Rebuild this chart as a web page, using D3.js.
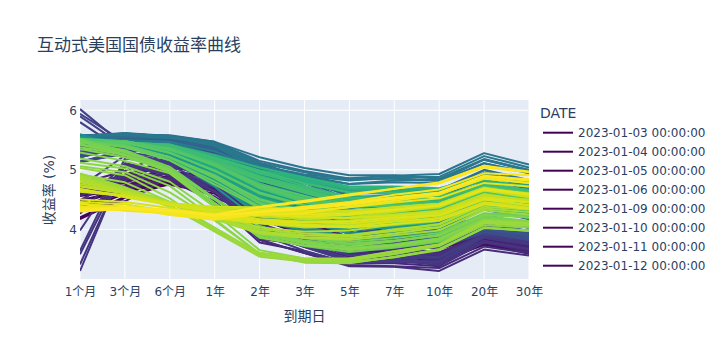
<!DOCTYPE html>
<html><head><meta charset="utf-8">
<script src="https://cdn.jsdelivr.net/npm/d3@7"></script>
<style>
body{margin:0;background:#fff}
svg{font-family:"DejaVu Sans","Noto Sans CJK SC",sans-serif}
</style>
</head><body>
<svg id="chart" width="728" height="360"></svg>
<script>
// ---- data ----
const maturities = ["1个月","3个月","6个月","1年","2年","3年","5年","7年","10年","20年","30年"];
const yTicks = [4, 5, 6];
// Fridays (plus the first trading days of 2023)
const dates = [
"2023-01-03","2023-01-04","2023-01-05","2023-01-06","2023-01-09","2023-01-10","2023-01-11","2023-01-12",
"2023-01-20","2023-01-27","2023-02-03","2023-02-10","2023-02-17","2023-02-24","2023-03-03","2023-03-10",
"2023-03-17","2023-03-24","2023-03-31","2023-04-06","2023-04-14","2023-04-21","2023-04-28","2023-05-05",
"2023-05-12","2023-05-19","2023-05-24","2023-05-26","2023-06-02","2023-06-09","2023-06-16","2023-06-23",
"2023-06-30","2023-07-07","2023-07-14","2023-07-21","2023-07-28","2023-08-04","2023-08-11","2023-08-18",
"2023-08-25","2023-09-01","2023-09-08","2023-09-15","2023-09-22","2023-09-29","2023-10-06","2023-10-13",
"2023-10-20","2023-10-27","2023-11-03","2023-11-09","2023-11-17","2023-11-24","2023-12-01","2023-12-08",
"2023-12-15","2023-12-22","2023-12-29","2024-01-05","2024-01-12","2024-01-19","2024-01-26","2024-02-02",
"2024-02-09","2024-02-16","2024-02-23","2024-03-01","2024-03-08","2024-03-15","2024-03-22","2024-03-28",
"2024-04-05","2024-04-12","2024-04-19","2024-04-26","2024-05-03","2024-05-10","2024-05-17","2024-05-24",
"2024-05-31","2024-06-07","2024-06-14","2024-06-21","2024-06-28","2024-07-05","2024-07-12","2024-07-19",
"2024-07-26","2024-08-02","2024-08-09","2024-08-16","2024-08-23","2024-08-30","2024-09-06","2024-09-13",
"2024-09-20","2024-09-27","2024-10-04","2024-10-11","2024-10-18","2024-10-25","2024-11-01","2024-11-08",
"2024-11-15","2024-11-22","2024-11-29","2024-12-06","2024-12-13","2024-12-20","2024-12-27","2025-01-03",
"2025-01-10","2025-01-17"
];
// one row per date above, yields (%) in the order of `maturities`
const curves = [
[4.17,4.53,4.77,4.72,4.40,4.18,3.94,3.89,3.79,4.06,3.88],
[4.20,4.55,4.77,4.71,4.36,4.11,3.85,3.79,3.69,3.95,3.79],
[4.30,4.60,4.84,4.78,4.45,4.20,3.94,3.86,3.72,3.99,3.81],
[4.32,4.64,4.79,4.71,4.24,4.00,3.73,3.66,3.55,3.84,3.67],
[4.33,4.65,4.79,4.69,4.19,3.94,3.69,3.63,3.53,3.83,3.66],
[4.34,4.67,4.82,4.73,4.24,4.00,3.77,3.70,3.61,3.89,3.72],
[4.35,4.67,4.79,4.69,4.21,3.97,3.70,3.64,3.54,3.81,3.65],
[4.36,4.65,4.75,4.60,4.09,3.82,3.57,3.50,3.44,3.75,3.59],
[4.49,4.66,4.80,4.64,4.18,3.89,3.61,3.55,3.48,3.75,3.63],
[4.62,4.68,4.82,4.68,4.21,3.94,3.63,3.58,3.52,3.80,3.65],
[4.63,4.71,4.91,4.79,4.30,3.98,3.66,3.60,3.53,3.78,3.61],
[4.60,4.74,4.97,4.89,4.51,4.20,3.93,3.83,3.74,3.94,3.80],
[4.64,4.80,5.05,5.01,4.62,4.36,4.05,3.95,3.82,4.00,3.88],
[4.69,4.84,5.13,5.05,4.81,4.51,4.19,4.05,3.94,4.07,3.93],
[4.72,4.89,5.21,5.03,4.86,4.58,4.24,4.08,3.95,4.07,3.88],
[4.69,4.92,5.17,4.90,4.59,4.30,3.96,3.82,3.70,3.90,3.70],
[4.41,4.47,4.88,4.44,3.84,3.74,3.54,3.51,3.43,3.79,3.62],
[4.29,4.70,4.82,4.47,3.78,3.63,3.43,3.43,3.38,3.78,3.64],
[4.74,4.85,4.94,4.64,4.06,3.81,3.60,3.55,3.48,3.81,3.67],
[4.49,4.89,4.83,4.55,3.82,3.60,3.38,3.37,3.30,3.66,3.56],
[4.26,5.05,4.95,4.73,4.10,3.85,3.63,3.56,3.51,3.86,3.74],
[3.41,5.08,4.91,4.71,4.18,3.93,3.68,3.63,3.57,3.90,3.78],
[3.30,5.10,4.94,4.80,4.04,3.76,3.50,3.48,3.44,3.81,3.67],
[4.71,5.24,5.03,4.64,3.92,3.64,3.43,3.45,3.44,3.87,3.78],
[5.31,5.26,5.08,4.71,3.98,3.70,3.46,3.47,3.46,3.89,3.81],
[5.80,5.30,5.19,4.90,4.28,4.01,3.72,3.70,3.69,4.02,3.95],
[6.02,5.40,5.34,5.14,4.37,4.09,3.81,3.79,3.72,4.03,3.97],
[5.94,5.46,5.35,5.21,4.54,4.22,3.93,3.86,3.80,4.05,3.97],
[5.47,5.48,5.47,5.19,4.50,4.21,3.93,3.86,3.69,3.98,3.88],
[5.14,5.27,5.44,5.26,4.59,4.26,3.92,3.84,3.74,3.99,3.88],
[5.22,5.38,5.45,5.27,4.70,4.35,4.00,3.89,3.77,4.00,3.86],
[5.21,5.40,5.45,5.28,4.75,4.37,4.00,3.86,3.74,3.96,3.83],
[5.24,5.43,5.47,5.40,4.87,4.49,4.13,3.97,3.81,4.00,3.85],
[5.28,5.42,5.54,5.42,4.94,4.64,4.35,4.20,4.06,4.19,4.05],
[5.36,5.41,5.45,5.25,4.74,4.39,4.04,3.92,3.83,4.08,3.93],
[5.40,5.43,5.51,5.34,4.84,4.49,4.15,4.01,3.84,4.04,3.91],
[5.41,5.45,5.52,5.36,4.88,4.53,4.18,4.07,3.96,4.18,4.02],
[5.53,5.54,5.47,5.31,4.78,4.47,4.14,4.12,4.05,4.35,4.21],
[5.54,5.54,5.50,5.37,4.89,4.56,4.31,4.27,4.16,4.45,4.31],
[5.54,5.54,5.55,5.42,4.92,4.64,4.39,4.34,4.25,4.52,4.38],
[5.54,5.58,5.58,5.47,5.05,4.78,4.46,4.35,4.25,4.47,4.30],
[5.54,5.56,5.54,5.35,4.87,4.56,4.29,4.24,4.18,4.44,4.29],
[5.55,5.58,5.55,5.41,4.98,4.68,4.39,4.33,4.26,4.49,4.33],
[5.55,5.59,5.57,5.43,5.02,4.73,4.44,4.39,4.33,4.57,4.42],
[5.57,5.56,5.55,5.44,5.10,4.82,4.56,4.51,4.44,4.70,4.52],
[5.55,5.55,5.53,5.46,5.03,4.80,4.60,4.61,4.59,4.88,4.73],
[5.57,5.61,5.56,5.45,5.08,4.90,4.76,4.79,4.78,5.11,4.95],
[5.57,5.60,5.55,5.42,5.03,4.81,4.63,4.65,4.63,4.99,4.79],
[5.56,5.60,5.57,5.45,5.07,4.92,4.86,4.90,4.93,5.28,5.09],
[5.56,5.61,5.56,5.40,5.00,4.87,4.76,4.82,4.84,5.17,5.00],
[5.53,5.50,5.44,5.21,4.83,4.63,4.48,4.56,4.57,4.95,4.77],
[5.53,5.50,5.47,5.31,5.02,4.80,4.66,4.69,4.62,4.92,4.73],
[5.52,5.45,5.41,5.17,4.89,4.66,4.44,4.47,4.44,4.79,4.60],
[5.52,5.48,5.43,5.19,4.95,4.72,4.49,4.52,4.47,4.77,4.60],
[5.50,5.42,5.32,4.99,4.56,4.32,4.14,4.22,4.22,4.56,4.40],
[5.51,5.46,5.36,5.05,4.71,4.46,4.24,4.27,4.23,4.50,4.31],
[5.54,5.42,5.25,4.94,4.45,4.15,3.92,3.94,3.92,4.21,4.03],
[5.55,5.44,5.26,4.82,4.31,4.06,3.85,3.87,3.90,4.18,4.05],
[5.60,5.37,5.26,4.79,4.23,4.01,3.84,3.88,3.88,4.20,4.03],
[5.54,5.43,5.24,4.84,4.40,4.20,4.02,4.04,4.05,4.37,4.21],
[5.55,5.44,5.18,4.72,4.14,3.98,3.85,3.91,3.96,4.34,4.19],
[5.54,5.43,5.22,4.84,4.39,4.19,4.04,4.10,4.15,4.47,4.35],
[5.54,5.45,5.21,4.81,4.35,4.15,4.06,4.10,4.15,4.50,4.38],
[5.53,5.43,5.21,4.80,4.37,4.14,3.99,4.04,4.03,4.36,4.22],
[5.53,5.44,5.27,4.91,4.48,4.29,4.14,4.17,4.18,4.47,4.37],
[5.52,5.45,5.34,5.01,4.64,4.43,4.28,4.31,4.30,4.55,4.43],
[5.52,5.45,5.31,4.97,4.69,4.46,4.28,4.28,4.26,4.52,4.39],
[5.52,5.46,5.32,4.95,4.53,4.32,4.15,4.19,4.19,4.46,4.33],
[5.52,5.46,5.32,4.94,4.47,4.25,4.06,4.09,4.09,4.36,4.26],
[5.51,5.48,5.35,5.03,4.73,4.50,4.33,4.33,4.31,4.54,4.43],
[5.51,5.46,5.32,5.00,4.59,4.38,4.22,4.23,4.22,4.45,4.38],
[5.49,5.46,5.38,5.03,4.59,4.40,4.21,4.23,4.20,4.45,4.34],
[5.48,5.45,5.36,5.06,4.73,4.54,4.38,4.40,4.39,4.61,4.54],
[5.48,5.45,5.39,5.16,4.90,4.70,4.55,4.55,4.50,4.71,4.61],
[5.48,5.46,5.41,5.21,4.97,4.84,4.67,4.66,4.62,4.82,4.71],
[5.48,5.45,5.42,5.22,4.99,4.87,4.69,4.70,4.67,4.88,4.78],
[5.48,5.44,5.39,5.12,4.81,4.64,4.48,4.51,4.50,4.74,4.66],
[5.48,5.45,5.41,5.17,4.87,4.69,4.52,4.53,4.50,4.73,4.64],
[5.49,5.45,5.40,5.15,4.83,4.62,4.44,4.44,4.42,4.64,4.55],
[5.48,5.46,5.40,5.20,4.95,4.73,4.53,4.51,4.46,4.67,4.57],
[5.48,5.46,5.42,5.18,4.89,4.70,4.52,4.52,4.51,4.73,4.65],
[5.48,5.45,5.37,5.13,4.87,4.66,4.46,4.45,4.43,4.65,4.55],
[5.48,5.45,5.36,5.07,4.69,4.46,4.24,4.24,4.22,4.48,4.36],
[5.48,5.48,5.35,5.08,4.73,4.50,4.28,4.27,4.25,4.51,4.40],
[5.52,5.48,5.33,5.09,4.71,4.52,4.33,4.36,4.36,4.61,4.51],
[5.48,5.46,5.28,4.99,4.60,4.40,4.22,4.25,4.28,4.57,4.47],
[5.47,5.42,5.21,4.89,4.45,4.23,4.09,4.13,4.18,4.50,4.40],
[5.47,5.39,5.21,4.91,4.49,4.28,4.14,4.18,4.24,4.58,4.45],
[5.49,5.39,5.16,4.80,4.38,4.19,4.07,4.12,4.20,4.53,4.45],
[5.49,5.25,4.96,4.40,3.88,3.72,3.62,3.69,3.79,4.15,4.11],
[5.52,5.30,5.00,4.52,4.05,3.86,3.79,3.85,3.94,4.27,4.23],
[5.47,5.30,5.02,4.51,4.05,3.85,3.76,3.81,3.89,4.22,4.14],
[5.42,5.26,4.97,4.43,3.91,3.76,3.65,3.71,3.81,4.15,4.09],
[5.35,5.21,4.98,4.44,3.92,3.78,3.71,3.80,3.91,4.24,4.20],
[5.19,5.06,4.80,4.27,3.65,3.51,3.49,3.58,3.72,4.07,4.03],
[5.06,4.96,4.62,4.15,3.59,3.44,3.43,3.54,3.66,4.03,3.98],
[4.92,4.79,4.46,4.03,3.59,3.47,3.47,3.59,3.73,4.12,4.09],
[4.86,4.65,4.38,3.98,3.56,3.49,3.50,3.63,3.75,4.14,4.10],
[4.90,4.70,4.46,4.17,3.93,3.86,3.82,3.90,3.98,4.32,4.25],
[4.88,4.62,4.44,4.22,3.96,3.90,3.88,3.98,4.09,4.45,4.40],
[4.85,4.62,4.44,4.23,3.95,3.89,3.90,4.00,4.08,4.42,4.38],
[4.79,4.63,4.45,4.28,4.10,4.03,4.05,4.14,4.24,4.55,4.50],
[4.73,4.61,4.45,4.32,4.21,4.17,4.20,4.29,4.37,4.65,4.54],
[4.67,4.57,4.40,4.30,4.25,4.21,4.19,4.25,4.31,4.58,4.46],
[4.63,4.56,4.43,4.33,4.30,4.28,4.30,4.37,4.43,4.70,4.59],
[4.65,4.57,4.44,4.38,4.37,4.32,4.30,4.34,4.41,4.66,4.56],
[4.68,4.54,4.41,4.28,4.13,4.08,4.05,4.13,4.18,4.45,4.36],
[4.46,4.42,4.30,4.19,4.10,4.06,4.03,4.09,4.15,4.42,4.34],
[4.43,4.34,4.27,4.21,4.24,4.21,4.25,4.32,4.40,4.68,4.60],
[4.36,4.32,4.29,4.21,4.30,4.30,4.37,4.45,4.52,4.78,4.72],
[4.44,4.31,4.27,4.19,4.33,4.37,4.45,4.54,4.62,4.89,4.82],
[4.34,4.34,4.27,4.18,4.28,4.34,4.41,4.51,4.60,4.88,4.82],
[4.32,4.37,4.33,4.25,4.38,4.48,4.59,4.68,4.77,5.04,4.96],
[4.30,4.34,4.31,4.23,4.29,4.35,4.43,4.53,4.61,4.90,4.84]
];
// mid-week observations
const midDates = [
"2023-01-17","2023-01-24","2023-01-31","2023-02-07","2023-02-14","2023-02-21","2023-02-28","2023-03-07",
"2023-03-14","2023-03-21","2023-03-28","2023-04-04","2023-04-11","2023-04-18","2023-04-25","2023-05-02",
"2023-05-09","2023-05-16","2023-05-23","2023-05-30","2023-06-06","2023-06-13","2023-06-20","2023-06-27",
"2023-07-03","2023-07-11","2023-07-18","2023-07-25","2023-08-01","2023-08-08","2023-08-15","2023-08-22",
"2023-08-29","2023-09-05","2023-09-12","2023-09-19","2023-09-26","2023-10-03","2023-10-10","2023-10-17",
"2023-10-24","2023-10-31","2023-11-07","2023-11-14","2023-11-21","2023-11-28","2023-12-05","2023-12-12",
"2023-12-19","2023-12-26","2024-01-02","2024-01-09","2024-01-16","2024-01-23","2024-01-30","2024-02-06",
"2024-02-13","2024-02-20","2024-02-27","2024-03-05","2024-03-12","2024-03-19","2024-03-26","2024-04-02",
"2024-04-09","2024-04-16","2024-04-23","2024-04-30","2024-05-07","2024-05-14","2024-05-21","2024-05-28",
"2024-06-04","2024-06-11","2024-06-18","2024-06-25","2024-07-02","2024-07-09","2024-07-16","2024-07-23",
"2024-07-30","2024-08-06","2024-08-13","2024-08-20","2024-08-27","2024-09-03","2024-09-10","2024-09-17",
"2024-09-24","2024-10-01","2024-10-08","2024-10-15","2024-10-22","2024-10-29","2024-11-05","2024-11-12",
"2024-11-19","2024-11-26","2024-12-03","2024-12-10","2024-12-17","2024-12-24","2024-12-31","2025-01-07",
"2025-01-14"
];
const midCurves = [
[4.45,4.66,4.80,4.66,4.18,3.90,3.61,3.57,3.53,3.80,3.64],
[4.56,4.66,4.80,4.67,4.20,3.91,3.61,3.55,3.46,3.74,3.61],
[4.58,4.70,4.82,4.68,4.21,3.90,3.63,3.59,3.52,3.80,3.65],
[4.58,4.73,4.96,4.86,4.47,4.14,3.86,3.75,3.67,3.88,3.73],
[4.60,4.78,5.02,4.98,4.60,4.35,4.05,3.95,3.77,3.95,3.80],
[4.66,4.84,5.12,5.06,4.73,4.47,4.18,4.06,3.95,4.07,3.95],
[4.73,4.86,5.17,5.02,4.81,4.50,4.18,4.03,3.92,4.04,3.88],
[4.77,4.98,5.30,5.24,5.00,4.68,4.31,4.13,3.97,4.06,3.88],
[4.73,4.66,4.89,4.54,4.20,3.96,3.69,3.63,3.55,3.85,3.70],
[4.60,4.72,4.83,4.64,4.17,3.96,3.75,3.68,3.61,3.91,3.73],
[4.67,4.83,4.94,4.62,4.06,3.83,3.63,3.59,3.55,3.86,3.74],
[4.56,4.91,4.86,4.55,3.83,3.60,3.40,3.38,3.35,3.71,3.60],
[4.45,5.07,4.94,4.71,4.05,3.80,3.58,3.52,3.43,3.79,3.66],
[3.98,5.11,4.97,4.78,4.21,3.97,3.72,3.66,3.59,3.91,3.80],
[3.58,5.08,4.91,4.65,3.96,3.70,3.47,3.47,3.40,3.78,3.67],
[3.64,5.19,5.10,4.82,4.02,3.73,3.48,3.49,3.45,3.86,3.75],
[5.13,5.27,5.11,4.80,4.03,3.75,3.50,3.51,3.52,3.89,3.81],
[5.59,5.28,5.14,4.79,4.09,3.80,3.56,3.58,3.53,3.90,3.84],
[5.90,5.38,5.28,5.07,4.33,4.03,3.77,3.76,3.71,4.04,3.98],
[5.51,5.50,5.44,5.20,4.46,4.13,3.80,3.73,3.69,3.99,3.89],
[5.12,5.35,5.45,5.27,4.55,4.22,3.85,3.78,3.70,3.93,3.84],
[5.14,5.31,5.44,5.25,4.68,4.31,3.95,3.84,3.79,4.01,3.88],
[5.21,5.38,5.45,5.24,4.68,4.29,3.95,3.83,3.72,3.96,3.84],
[5.23,5.45,5.46,5.35,4.75,4.39,4.05,3.90,3.77,3.96,3.82],
[5.26,5.44,5.51,5.43,4.94,4.54,4.18,4.04,3.86,4.04,3.88],
[5.30,5.42,5.54,5.40,4.88,4.56,4.20,4.08,3.97,4.15,4.03],
[5.37,5.46,5.49,5.29,4.76,4.42,4.06,3.92,3.80,4.01,3.89],
[5.42,5.50,5.53,5.38,4.87,4.53,4.19,4.03,3.91,4.12,3.97],
[5.54,5.53,5.50,5.36,4.88,4.55,4.20,4.12,4.05,4.34,4.18],
[5.53,5.53,5.49,5.35,4.77,4.48,4.16,4.10,4.02,4.34,4.17],
[5.54,5.53,5.53,5.40,4.96,4.65,4.34,4.27,4.22,4.51,4.34],
[5.54,5.58,5.57,5.41,4.99,4.69,4.44,4.40,4.33,4.60,4.42],
[5.53,5.58,5.53,5.33,4.88,4.57,4.27,4.20,4.12,4.38,4.22],
[5.55,5.58,5.55,5.43,4.97,4.69,4.39,4.33,4.27,4.48,4.36],
[5.55,5.60,5.54,5.41,5.00,4.70,4.41,4.34,4.29,4.53,4.36],
[5.56,5.58,5.55,5.45,5.09,4.82,4.49,4.43,4.37,4.60,4.44],
[5.55,5.56,5.57,5.46,5.12,4.86,4.64,4.61,4.56,4.83,4.68],
[5.57,5.62,5.57,5.46,5.15,4.98,4.85,4.85,4.81,5.11,4.94],
[5.58,5.60,5.56,5.42,4.99,4.77,4.62,4.65,4.66,5.00,4.83],
[5.56,5.60,5.57,5.47,5.21,5.03,4.91,4.91,4.85,5.18,4.99],
[5.57,5.59,5.56,5.44,5.12,4.96,4.83,4.86,4.82,5.17,4.98],
[5.56,5.59,5.54,5.44,5.07,4.90,4.82,4.88,4.88,5.23,5.04],
[5.52,5.49,5.45,5.25,4.92,4.70,4.53,4.58,4.58,4.92,4.73],
[5.51,5.46,5.37,5.13,4.83,4.58,4.43,4.47,4.44,4.80,4.63],
[5.51,5.47,5.40,5.18,4.88,4.62,4.41,4.43,4.41,4.73,4.55],
[5.50,5.44,5.34,5.05,4.73,4.47,4.28,4.33,4.34,4.69,4.50],
[5.50,5.43,5.31,4.99,4.57,4.33,4.12,4.17,4.17,4.47,4.32],
[5.53,5.45,5.35,5.03,4.73,4.46,4.24,4.25,4.21,4.46,4.31],
[5.52,5.41,5.26,4.89,4.41,4.14,3.93,3.94,3.94,4.22,4.07],
[5.53,5.45,5.28,4.82,4.25,4.04,3.85,3.88,3.89,4.21,4.04],
[5.55,5.46,5.24,4.80,4.33,4.17,3.93,3.95,3.95,4.25,4.08],
[5.53,5.47,5.23,4.79,4.36,4.15,4.01,4.03,4.02,4.33,4.19],
[5.54,5.43,5.19,4.80,4.22,4.11,4.01,4.06,4.07,4.41,4.30],
[5.54,5.46,5.21,4.83,4.38,4.21,4.07,4.11,4.14,4.47,4.37],
[5.55,5.45,5.21,4.77,4.33,4.13,3.99,4.04,4.06,4.41,4.30],
[5.53,5.44,5.24,4.86,4.40,4.19,4.02,4.08,4.09,4.40,4.30],
[5.53,5.48,5.35,5.03,4.66,4.47,4.31,4.32,4.31,4.56,4.47],
[5.52,5.45,5.31,4.97,4.61,4.42,4.26,4.29,4.27,4.52,4.40],
[5.52,5.45,5.31,4.98,4.69,4.50,4.31,4.31,4.31,4.54,4.44],
[5.52,5.47,5.33,4.98,4.55,4.33,4.13,4.16,4.15,4.41,4.27],
[5.51,5.47,5.34,5.02,4.60,4.38,4.17,4.18,4.16,4.42,4.31],
[5.50,5.46,5.37,5.04,4.68,4.45,4.29,4.31,4.30,4.54,4.44],
[5.49,5.46,5.36,5.02,4.62,4.42,4.23,4.23,4.23,4.48,4.39],
[5.49,5.44,5.34,5.06,4.71,4.55,4.38,4.40,4.36,4.60,4.51],
[5.48,5.44,5.36,5.09,4.74,4.55,4.38,4.40,4.36,4.60,4.52],
[5.49,5.45,5.41,5.21,4.98,4.82,4.68,4.68,4.67,4.86,4.77],
[5.48,5.45,5.41,5.20,4.93,4.80,4.63,4.63,4.61,4.81,4.73],
[5.48,5.45,5.42,5.25,5.04,4.87,4.72,4.72,4.69,4.89,4.79],
[5.48,5.45,5.41,5.17,4.83,4.66,4.48,4.49,4.46,4.71,4.62],
[5.49,5.45,5.40,5.18,4.87,4.67,4.50,4.49,4.45,4.68,4.57],
[5.50,5.46,5.40,5.18,4.83,4.64,4.43,4.43,4.41,4.63,4.54],
[5.49,5.46,5.42,5.20,4.98,4.77,4.62,4.61,4.55,4.77,4.66],
[5.48,5.44,5.36,5.11,4.77,4.56,4.31,4.32,4.33,4.58,4.48],
[5.48,5.45,5.37,5.12,4.83,4.62,4.40,4.40,4.40,4.64,4.54],
[5.50,5.46,5.35,5.07,4.71,4.46,4.24,4.24,4.22,4.48,4.35],
[5.49,5.48,5.35,5.07,4.72,4.48,4.26,4.25,4.25,4.51,4.40],
[5.47,5.48,5.35,5.09,4.74,4.56,4.38,4.40,4.43,4.71,4.62],
[5.47,5.46,5.29,4.98,4.62,4.40,4.23,4.26,4.30,4.60,4.50],
[5.47,5.41,5.20,4.86,4.43,4.22,4.08,4.12,4.16,4.49,4.40],
[5.47,5.40,5.21,4.88,4.51,4.31,4.18,4.21,4.26,4.58,4.49],
[5.48,5.38,5.16,4.75,4.36,4.16,4.03,4.07,4.14,4.46,4.39],
[5.50,5.31,5.01,4.50,3.99,3.81,3.74,3.80,3.90,4.26,4.20],
[5.47,5.33,5.05,4.52,3.95,3.78,3.69,3.75,3.85,4.19,4.13],
[5.43,5.30,5.00,4.43,3.99,3.79,3.69,3.72,3.81,4.14,4.08],
[5.38,5.25,4.98,4.43,3.86,3.73,3.66,3.73,3.83,4.16,4.11],
[5.29,5.15,4.94,4.37,3.87,3.73,3.67,3.73,3.84,4.17,4.13],
[5.12,5.02,4.73,4.17,3.59,3.45,3.44,3.53,3.67,4.02,3.98],
[5.03,4.91,4.52,3.99,3.58,3.46,3.45,3.53,3.65,4.03,3.97],
[4.94,4.71,4.39,3.96,3.54,3.46,3.47,3.60,3.74,4.13,4.10],
[4.86,4.68,4.40,3.99,3.61,3.51,3.51,3.63,3.74,4.10,4.06],
[4.88,4.67,4.45,4.19,4.00,3.93,3.90,3.97,4.04,4.35,4.29],
[4.85,4.63,4.43,4.18,3.94,3.86,3.85,3.93,4.03,4.38,4.33],
[4.82,4.64,4.45,4.26,4.03,3.96,3.98,4.08,4.20,4.53,4.48],
[4.76,4.61,4.45,4.29,4.11,4.05,4.08,4.17,4.28,4.58,4.49],
[4.72,4.60,4.44,4.29,4.17,4.13,4.15,4.22,4.30,4.59,4.48],
[4.65,4.57,4.43,4.35,4.34,4.29,4.31,4.37,4.43,4.69,4.59],
[4.64,4.57,4.43,4.33,4.27,4.22,4.24,4.31,4.39,4.66,4.55],
[4.65,4.56,4.43,4.32,4.24,4.20,4.19,4.23,4.28,4.54,4.46],
[4.50,4.46,4.36,4.24,4.17,4.12,4.10,4.17,4.23,4.50,4.41],
[4.43,4.38,4.29,4.21,4.14,4.11,4.13,4.20,4.24,4.51,4.45],
[4.35,4.34,4.28,4.22,4.25,4.25,4.27,4.33,4.40,4.67,4.59],
[4.39,4.33,4.28,4.22,4.31,4.37,4.43,4.52,4.59,4.85,4.78],
[4.37,4.37,4.24,4.16,4.25,4.27,4.38,4.48,4.58,4.86,4.78],
[4.33,4.36,4.30,4.22,4.29,4.38,4.46,4.58,4.67,4.94,4.91],
[4.32,4.37,4.32,4.24,4.37,4.46,4.57,4.68,4.79,5.07,4.97]
];
const titleText = "互动式美国国债收益率曲线";
const xTitle = "到期日";
const yTitle = "收益率 (%)";
const legendTitle = "DATE";
const legendShown = 8;

// ---- drawing ----
const svg = d3.select("#chart");
const W = 728, H = 360;
const m = {l: 80, r: 199, t: 100, b: 81};
const pw = W - m.l - m.r, ph = H - m.t - m.b;
const txt = "#2a3f5f";
const FONT = "'DejaVu Sans','Noto Sans CJK SC',sans-serif";

svg.append("rect").attr("width", W).attr("height", H).attr("fill", "#fff");

const parse = d3.timeParse("%Y-%m-%d");
const fmt = d3.timeFormat("%Y-%m-%d %H:%M:%S");
const series = dates.map((d, i) => ({date: parse(d), values: curves[i]}))
  .concat(midDates.map((d, i) => ({date: parse(d), values: midCurves[i]})))
  .sort((a, b) => a.date - b.date);
const tScale = d3.scaleTime().domain(d3.extent(series, s => s.date)).range([0, 1]);
const color = d => d3.interpolateViridis(tScale(d));

const x = d3.scalePoint().domain(maturities).range([m.l, m.l + pw]).padding(0);
const y = d3.scaleLinear().domain([3.165, 6.173]).range([m.t + ph, m.t]);

svg.append("rect").attr("x", m.l).attr("y", m.t).attr("width", pw).attr("height", ph).attr("fill", "#E5ECF6");

// grid
const g = svg.append("g");
g.selectAll("line.vx").data(maturities).join("line")
  .attr("x1", d => x(d)).attr("x2", d => x(d)).attr("y1", m.t).attr("y2", m.t + ph)
  .attr("stroke", "#fff").attr("stroke-width", 1);
g.selectAll("line.hy").data(yTicks).join("line")
  .attr("x1", m.l).attr("x2", m.l + pw).attr("y1", d => y(d)).attr("y2", d => y(d))
  .attr("stroke", "#fff").attr("stroke-width", 1);

svg.append("clipPath").attr("id", "clip").append("rect")
  .attr("x", m.l).attr("y", m.t).attr("width", pw).attr("height", ph);

const line = d3.line().x((v, i) => x(maturities[i])).y(v => y(v));
svg.append("g").attr("clip-path", "url(#clip)")
  .selectAll("path").data(series).join("path")
  .attr("d", s => line(s.values))
  .attr("fill", "none")
  .attr("stroke", s => color(s.date))
  .attr("stroke-width", 2)
  .attr("stroke-linejoin", "round");

// axes
const xAxis = d3.axisBottom(x).tickSize(0).tickPadding(8);
const xa = svg.append("g").attr("transform", `translate(0,${m.t + ph})`).call(xAxis);
xa.select(".domain").remove();
xa.selectAll("text").attr("fill", txt).attr("font-size", 12).attr("font-family", FONT);

const yAxis = d3.axisLeft(y).tickValues(yTicks).tickSize(0).tickPadding(3).tickFormat(d3.format("d"));
const ya = svg.append("g").attr("transform", `translate(${m.l},0)`).call(yAxis);
ya.select(".domain").remove();
ya.selectAll("text").attr("fill", txt).attr("font-size", 12).attr("font-family", FONT);

// titles
svg.append("text").attr("x", 37).attr("y", 51).attr("fill", txt).attr("font-size", 17).text(titleText);
svg.append("text").attr("x", m.l + pw / 2).attr("y", 321).attr("text-anchor", "middle")
  .attr("fill", txt).attr("font-size", 14).text(xTitle);
svg.append("text").attr("transform", `translate(54,190) rotate(-90)`).attr("text-anchor", "middle")
  .attr("fill", txt).attr("font-size", 14).text(yTitle);

// legend
const lg = svg.append("g");
lg.append("text").attr("x", 540).attr("y", 118).attr("fill", txt).attr("font-size", 14).text(legendTitle);
const items = series.slice(0, legendShown);
const it = lg.selectAll("g.item").data(items).join("g")
  .attr("transform", (d, i) => `translate(0,${132.7 + i * 19})`);
it.append("line").attr("x1", 543).attr("x2", 573).attr("y1", 0).attr("y2", 0)
  .attr("stroke", d => color(d.date)).attr("stroke-width", 2);
it.append("text").attr("x", 578).attr("y", 4.3).attr("fill", txt).attr("font-size", 12)
  .text(d => fmt(d.date));
</script>
</body></html>
